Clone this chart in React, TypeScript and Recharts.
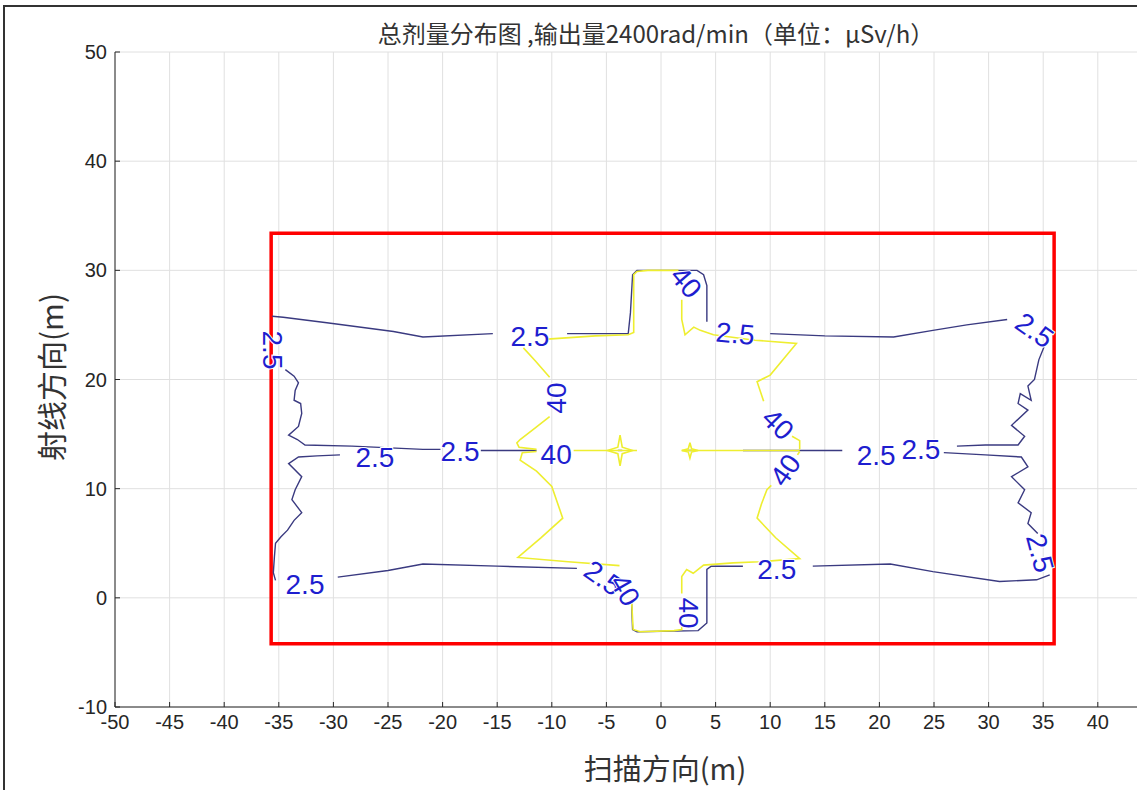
import React from "react";
import { ComposedChart, Line, Scatter, XAxis, YAxis, CartesianGrid, ReferenceArea } from "recharts";

type Pt = [number, number];

const xTicks = [-50, -45, -40, -35, -30, -25, -20, -15, -10, -5, 0, 5, 10, 15, 20, 25, 30, 35, 40, 45, 50];
const yTicks = [-10, 0, 10, 20, 30, 40, 50];

// 2.5 level (dark) contour pieces, split where MATLAB put its inline labels
const darkTopLeft: Pt[] = [[-15.4, 24.2], [-21.8, 23.9], [-24.5, 24.4], [-30.6, 25.2], [-34.6, 25.7], [-35.6, 25.8]];
const darkLeftUpper: Pt[] = [
  [-34.4, 20.9], [-33.6, 20.3], [-33.2, 19.7], [-33.5, 19.0], [-33.6, 18.1], [-33.0, 17.8], [-32.9, 16.9],
  [-33.2, 15.7], [-34.1, 14.9], [-33.3, 14.5], [-32.6, 14.0], [-28.3, 13.9], [-21.8, 13.6], [-20.2, 13.6],
];
const darkLeftSlit: Pt[] = [[-16.5, 13.5], [-14.9, 13.5], [-11.4, 13.5]];
const darkLeftLower: Pt[] = [
  [-29.4, 13.1], [-31.5, 13.0], [-33.2, 12.9], [-34.1, 12.3], [-32.9, 11.1], [-33.5, 9.9], [-33.8, 9.0],
  [-32.9, 7.8], [-33.6, 7.1], [-34.2, 6.2], [-34.8, 5.6], [-35.3, 5.0], [-35.4, 3.8], [-35.5, 2.3], [-35.3, 1.6],
];
const darkBottomLeft: Pt[] = [[-29.6, 1.9], [-25.0, 2.5], [-21.8, 3.1], [-15.0, 2.9], [-7.7, 2.7]];
const darkBottomCenter: Pt[] = [[-2.7, -0.2], [-2.6, -2.9], [-2.2, -3.1], [3.4, -3.0], [4.2, -2.3], [4.2, 2.6], [4.6, 2.9], [7.5, 2.9]];
const darkBottomRight: Pt[] = [[13.9, 2.9], [21.0, 3.1], [24.9, 2.4], [31.0, 1.5], [34.4, 1.65], [35.6, 2.1]];
const darkRightLower: Pt[] = [
  [34.5, 5.9], [33.6, 6.8], [33.9, 7.8], [32.7, 8.7], [33.3, 9.9], [32.1, 11.1], [33.6, 12.0], [33.0, 12.9],
  [29.7, 13.1], [25.9, 13.3],
];
const darkRightUpper: Pt[] = [
  [35.2, 23.3], [34.6, 21.8], [34.2, 20.0], [33.6, 19.4], [33.9, 18.1], [32.9, 18.7], [32.7, 17.8], [33.6, 17.2],
  [32.1, 15.8], [33.3, 14.8], [32.7, 14.0], [29.7, 14.0], [27.1, 13.9],
];
const darkTopRight: Pt[] = [[10.0, 24.2], [15.0, 24.0], [21.3, 23.9], [24.9, 24.5], [28.0, 25.0], [31.7, 25.5]];
const darkTopCenter: Pt[] = [[-8.6, 24.2], [-3.0, 24.2], [-2.8, 26.1], [-2.6, 29.6], [-2.2, 30.0], [3.3, 30.0], [3.9, 29.6], [4.2, 28.6], [4.2, 25.3]];
const darkRightSlit: Pt[] = [[7.5, 13.5], [12.0, 13.5], [16.6, 13.5]];
const darkDotLeft: Pt[] = [[-3.95, 13.5], [-3.55, 13.5]];
const darkDotRight: Pt[] = [[2.45, 13.5], [2.85, 13.5]];

// 40 level (yellow) contour pieces
const yelUpperLeft: Pt[] = [[-11.4, 13.6], [-13.0, 13.8], [-13.2, 14.2], [-12.9, 14.5], [-11.6, 15.5], [-10.2, 16.6]];
const yelUpperLeft2: Pt[] = [[-10.2, 20.2], [-11.5, 21.7], [-12.6, 22.9]];
const yelTop: Pt[] = [[-10.4, 23.7], [-6.0, 24.0], [-3.0, 24.1], [-2.5, 24.3], [-2.5, 29.6], [-2.2, 29.9], [-1.2, 30.0], [1.6, 30.0]];
const yelTopRight: Pt[] = [
  [1.9, 27.3], [1.9, 25.5], [2.2, 24.1], [3.0, 24.8], [3.6, 24.5], [4.8, 24.1], [8.6, 23.6], [12.4, 23.3],
  [10.0, 20.4], [8.8, 19.8], [9.4, 18.0],
];
const yelRightUpper2: Pt[] = [[12.0, 14.8], [12.7, 14.4], [12.7, 13.6]];
const yelSlitLeft: Pt[] = [[-8.0, 13.5], [-2.2, 13.5]];
const yelSlitRight: Pt[] = [[1.9, 13.5], [12.7, 13.5]];
const yelRightLower: Pt[] = [[12.7, 13.4], [12.5, 13.1]];
const yelRightLower2: Pt[] = [
  [10.1, 10.3], [9.7, 9.9], [9.2, 8.6], [8.8, 7.3], [10.5, 5.5], [12.7, 3.6], [9.0, 3.3], [6.6, 3.2],
  [3.9, 3.0], [2.95, 2.25], [2.35, 2.6], [1.9, 1.95], [1.9, 0.4],
];
const yelBottom: Pt[] = [[1.9, -2.4], [1.9, -2.9], [1.2, -3.0], [-1.9, -3.1], [-2.55, -2.9], [-2.7, -0.1]];
const yelLeftLower: Pt[] = [
  [-11.4, 13.4], [-12.7, 13.3], [-12.9, 12.6], [-11.4, 11.6], [-10.0, 10.2], [-9.0, 7.3], [-11.0, 5.5],
  [-13.1, 3.7], [-8.5, 3.3], [-3.8, 2.95],
];
const yelStarLeft: Pt[] = [
  [-3.75, 14.9], [-3.55, 13.8], [-2.6, 13.5], [-3.55, 13.2], [-3.75, 12.1], [-3.95, 13.2], [-4.9, 13.5], [-3.95, 13.8], [-3.75, 14.9],
];
const yelStarRight: Pt[] = [
  [2.65, 14.2], [2.8, 13.65], [3.4, 13.5], [2.8, 13.35], [2.65, 12.8], [2.5, 13.35], [1.9, 13.5], [2.5, 13.65], [2.65, 14.2],
];

const darkSegments: Pt[][] = [
  darkTopLeft, darkLeftUpper, darkLeftSlit, darkLeftLower, darkBottomLeft, darkBottomCenter, darkBottomRight,
  darkRightLower, darkRightUpper, darkTopRight, darkTopCenter, darkRightSlit, darkDotLeft, darkDotRight,
];
const yellowSegments: Pt[][] = [
  yelUpperLeft, yelUpperLeft2, yelTop, yelTopRight, yelRightUpper2, yelSlitLeft, yelSlitRight, yelRightLower,
  yelRightLower2, yelBottom, yelLeftLower, yelStarLeft, yelStarRight,
];

// inline contour labels: text, x, y, rotation
const labelTexts = ["2.5", "2.5", "40", "40", "2.5", "2.5", "40", "2.5", "2.5", "40", "2.5", "2.5", "40", "2.5", "2.5", "40", "2.5", "40", "2.5"];
const labelX = [-12.0, -35.6, -9.55, 2.3, 6.8, 34.2, 10.7, -26.2, -18.4, -9.6, 19.7, 23.8, 11.4, -32.6, -5.3, -3.3, 10.6, 2.5, 34.7];
const labelY = [23.9, 22.7, 18.3, 28.9, 24.2, 24.5, 15.9, 12.9, 13.4, 13.1, 13.0, 13.6, 11.7, 1.2, 1.8, 0.7, 2.6, -1.4, 4.1];
const labelAngle = [0, 90, -90, 50, 5, 35, 45, 0, 0, 0, 0, 0, -55, 0, 35, 60, 0, 90, 75];

// red annotation box [x1, x2, y1, y2]
const redBox = [-35.7, 36.0, -4.2, 33.4];

const labelRows = labelTexts.map((text, i) => ({ x: labelX[i], y: labelY[i], text, angle: labelAngle[i] }));
const toRows = (seg: Pt[]) => seg.map(([x, y]) => ({ x, y }));

const AXIS = "#262626";

function ContourLabel(props: any) {
  const { cx, cy, payload } = props;
  return (
    <text
      x={cx}
      y={cy}
      transform={`rotate(${payload.angle} ${cx} ${cy})`}
      textAnchor="middle"
      dominantBaseline="central"
      fontSize={28}
      fontFamily="'Liberation Sans', Arial, sans-serif"
      fill="#1e1ecf"
      stroke="#ffffff"
      strokeWidth={2}
      paintOrder="stroke"
    >
      {payload.text}
    </text>
  );
}

const EmptyTick = () => <g />;

export default function App() {
  return (
    <div style={{ position: "absolute", left: 0, top: 0, width: 1137, height: 790, overflow: "hidden", background: "#fff" }}>
      {/* figure frame, cropped on right/bottom */}
      <div style={{ position: "absolute", left: 3, top: 5, width: 2000, height: 2000, borderLeft: "2px solid #333", borderTop: "2px solid #333" }} />
      <div
        style={{
          position: "absolute", left: 656, top: 18, transform: "translateX(-50%)", whiteSpace: "nowrap",
          fontFamily: "'Noto Sans CJK SC', sans-serif", fontSize: 24, lineHeight: "29px", color: "#333",
        }}
      >
        总剂量分布图 ,输出量2400rad/min（单位：μSv/h）
      </div>
      <div style={{ position: "absolute", left: 0, top: 0 }}>
        <ComposedChart width={1207} height={790} margin={{ top: 52, right: 0, bottom: 0, left: 0 }}>
          <CartesianGrid stroke="#e0e0e0" strokeWidth={1} />
          <XAxis
            type="number"
            dataKey="x"
            domain={[-50, 50]}
            ticks={xTicks}
            interval={0}
            height={83}
            tickSize={-5}
            tickMargin={13}
            allowDataOverflow
            axisLine={{ stroke: AXIS }}
            tickLine={{ stroke: AXIS }}
            tick={{ fontSize: 20, fill: AXIS, fontFamily: "'Liberation Sans', Arial, sans-serif" }}
          />
          <XAxis
            xAxisId="top"
            orientation="top"
            type="number"
            domain={[-50, 50]}
            ticks={xTicks}
            interval={0}
            height={0}
            tickSize={-5}
            axisLine={{ stroke: AXIS }}
            tickLine={{ stroke: AXIS }}
            tick={EmptyTick}
          />
          <YAxis
            type="number"
            dataKey="y"
            domain={[-10, 50]}
            ticks={yTicks}
            interval={0}
            width={115}
            tickSize={-5}
            tickMargin={13}
            allowDataOverflow
            axisLine={{ stroke: AXIS }}
            tickLine={{ stroke: AXIS }}
            tick={{ fontSize: 20, fill: AXIS, fontFamily: "'Liberation Sans', Arial, sans-serif" }}
          />
          {darkSegments.map((seg, i) => (
            <Line
              key={`d${i}`}
              data={toRows(seg)}
              dataKey="y"
              type="linear"
              stroke="#3a3a80"
              strokeWidth={1.4}
              dot={false}
              activeDot={false}
              isAnimationActive={false}
            />
          ))}
          {yellowSegments.map((seg, i) => (
            <Line
              key={`y${i}`}
              data={toRows(seg)}
              dataKey="y"
              type="linear"
              stroke="#eeee30"
              strokeWidth={1.6}
              dot={false}
              activeDot={false}
              isAnimationActive={false}
            />
          ))}
          <ReferenceArea
            x1={redBox[0]}
            x2={redBox[1]}
            y1={redBox[2]}
            y2={redBox[3]}
            fill="none"
            fillOpacity={0}
            stroke="#ff0000"
            strokeWidth={3.5}
            ifOverflow="visible"
          />
          <Scatter data={labelRows} shape={ContourLabel} isAnimationActive={false} />
        </ComposedChart>
      </div>
      <div
        style={{
          position: "absolute", left: 665, top: 750, transform: "translateX(-50%)", whiteSpace: "nowrap",
          fontFamily: "'Noto Sans CJK SC', sans-serif", fontSize: 29, lineHeight: "34px", color: "#333",
        }}
      >
        扫描方向(m)
      </div>
      <div
        style={{
          position: "absolute", left: 50, top: 377, transform: "translate(-50%, -50%) rotate(-90deg)", whiteSpace: "nowrap",
          fontFamily: "'Noto Sans CJK SC', sans-serif", fontSize: 30, lineHeight: "36px", color: "#333",
        }}
      >
        射线方向(m)
      </div>
    </div>
  );
}
